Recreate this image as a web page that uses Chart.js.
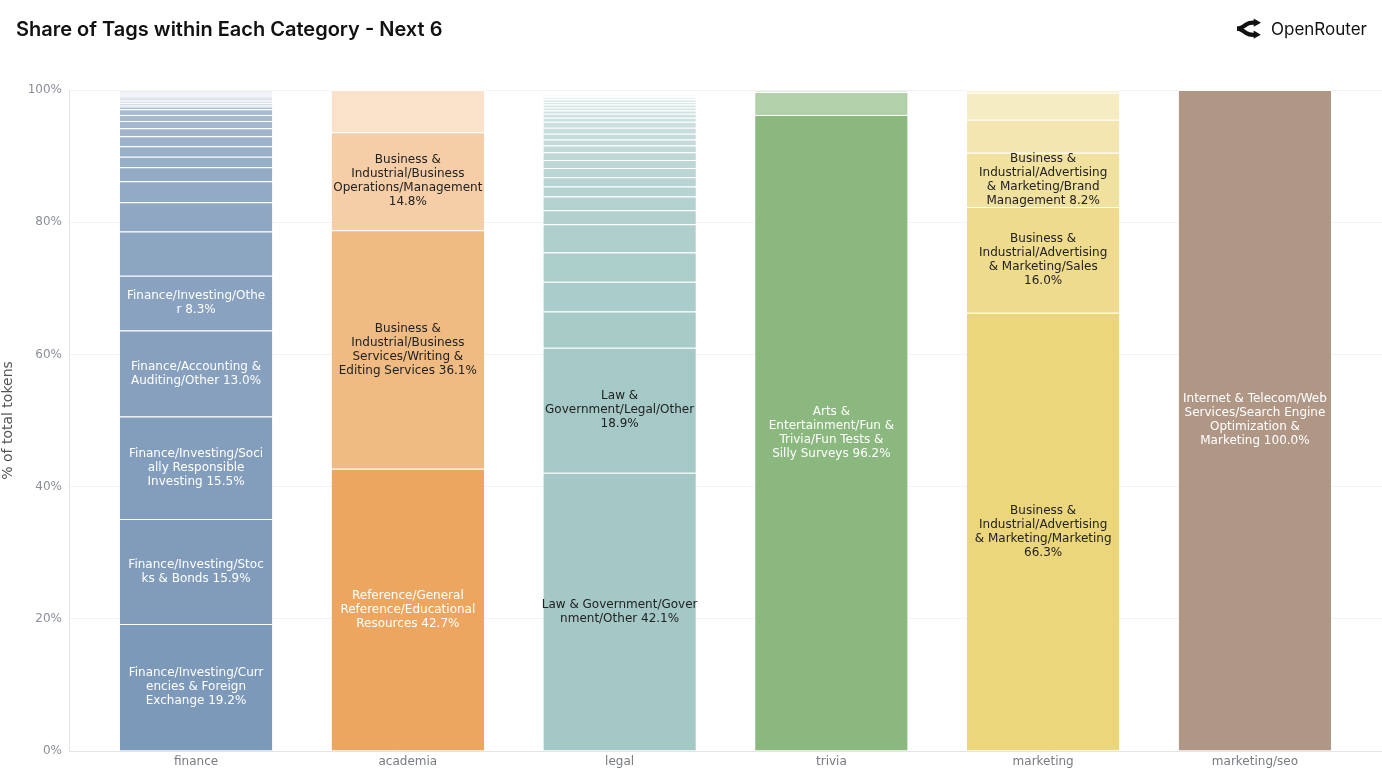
<!DOCTYPE html>
<html>
<head>
<meta charset="utf-8">
<script src="https://cdn.jsdelivr.net/npm/chart.js@4.4.1/dist/chart.umd.min.js"></script>
<style>
  html, body { margin: 0; padding: 0; background: #ffffff; }
  #wrap { position: relative; width: 1382px; height: 776px; overflow: hidden; background: #fff; }
  #c { position: absolute; left: 0; top: 0; }
  #title { position: absolute; left: 16px; top: 16px; font: 600 20px Inter, "Noto Sans", sans-serif; color: #111; line-height: 26px; white-space: nowrap; }
  #brand { position: absolute; right: 15px; top: 16px; height: 26px; display: flex; align-items: center; gap: 10px; font: 400 17px Inter, "Noto Sans", sans-serif; color: #111; }
  #brand svg { display: block; }
</style>
</head>
<body>
<div id="wrap">
  <canvas id="c" width="1382" height="776"></canvas>
  <div id="title">Share of Tags within Each Category - Next 6</div>
  <div id="brand">
    <svg width="24" height="24" viewBox="0 0 512 512" aria-hidden="true">
      <path d="M3 248.945C18 248.945 76 236 106 219C136 202 136 202 198 158C276.497 102.293 332 120.945 423 120.945" stroke="#111" stroke-width="90" fill="none"/>
      <path d="M511 121.5L357.25 210.268L357.25 32.7324L511 121.5Z" fill="#111"/>
      <path d="M0 249C15 249 73 261.945 103 278.945C133 295.945 133 295.945 195 339.945C273.497 395.652 329 377 420 377" stroke="#111" stroke-width="90" fill="none"/>
      <path d="M508 376.445L354.25 287.678L354.25 465.213L508 376.445Z" fill="#111"/>
    </svg>
    <span>OpenRouter</span>
  </div>
</div>
<script>
// ---------------- DATA ----------------
const categories = ['finance', 'academia', 'legal', 'trivia', 'marketing', 'marketing/seo'];

const financeShares = [19.2, 15.9, 15.5, 13.0, 8.3, 6.7, 4.4, 3.2, 2.1, 1.6, 1.6, 1.5, 1.2, 1.1, 0.9, 0.9, 0.4, 0.25, 0.25, 0.25, 0.25,
                       0.14, 0.14, 0.14, 0.14, 0.13, 0.13, 0.13, 0.13, 0.13, 0.13];
const financeTags = [
  'Finance/Investing/Currencies & Foreign Exchange',
  'Finance/Investing/Stocks & Bonds',
  'Finance/Investing/Socially Responsible Investing',
  'Finance/Accounting & Auditing/Other',
  'Finance/Investing/Other'
];

const academiaShares = [42.7, 36.1, 14.8, 6.4];
const academiaTags = [
  'Reference/General Reference/Educational Resources',
  'Business & Industrial/Business Services/Writing & Editing Services',
  'Business & Industrial/Business Operations/Management'
];

const legalShares = [42.1, 18.9, 5.5, 4.5, 4.4, 4.3, 2.1, 2.1, 1.5, 1.4, 1.4, 1.2, 1.2, 1.0, 0.9, 0.9, 0.9, 0.9,
                     0.6, 0.6, 0.5, 0.45, 0.45, 0.4, 0.35, 0.3, 0.2, 0.15];
const legalTags = [
  'Law & Government/Government/Other',
  'Law & Government/Legal/Other'
];

const triviaShares = [96.2, 3.5, 0.2];
const triviaTags = [
  'Arts & Entertainment/Fun & Trivia/Fun Tests & Silly Surveys'
];

const marketingShares = [66.3, 16.0, 8.2, 5.0, 4.1, 0.4];
const marketingTags = [
  'Business & Industrial/Advertising & Marketing/Marketing',
  'Business & Industrial/Advertising & Marketing/Sales',
  'Business & Industrial/Advertising & Marketing/Brand Management'
];

const seoShares = [100.0];
const seoTags = [
  'Internet & Telecom/Web Services/Search Engine Optimization & Marketing'
];

const yTickValues = [0, 20, 40, 60, 80, 100];

// ---------------- STYLE ----------------
const baseColors = [[111, 142, 177], [234, 156, 78], [153, 194, 191], [126, 176, 112], [233, 209, 109], [167, 139, 119]];
const labelMin = 8;

const shares = [financeShares, academiaShares, legalShares, triviaShares, marketingShares, seoShares];
const tags = [financeTags, academiaTags, legalTags, triviaTags, marketingTags, seoTags];

function segRGB(ci, r) {
  const n = shares[ci].length;
  const a = n > 1 ? 0.9 - 0.6 * r / (n - 1) : 0.9;
  return baseColors[ci].map(c => Math.round(255 - a * (255 - c)));
}
function rgbStr(c) { return 'rgb(' + c[0] + ',' + c[1] + ',' + c[2] + ')'; }

function wrapText(text, width) {
  const chunks = text.split(/(\s+)/).filter(s => s.length).reverse();
  const lines = [];
  while (chunks.length) {
    const cur = []; let len = 0;
    if (lines.length && chunks[chunks.length - 1].trim() === '') chunks.pop();
    while (chunks.length) {
      const l = chunks[chunks.length - 1].length;
      if (len + l <= width) { cur.push(chunks.pop()); len += l; } else break;
    }
    if (chunks.length && chunks[chunks.length - 1].length > width) {
      const space = width < 1 ? 1 : width - len;
      const c = chunks[chunks.length - 1];
      cur.push(c.slice(0, space));
      chunks[chunks.length - 1] = c.slice(space);
    }
    if (cur.length && cur[cur.length - 1].trim() === '') cur.pop();
    if (cur.length) lines.push(cur.join(''));
  }
  return lines;
}

const maxN = Math.max(...shares.map(s => s.length));
const datasets = [];
for (let r = 0; r < maxN; r++) {
  const idx = categories.map((c, i) => i).filter(i => shares[i][r] !== undefined);
  datasets.push({
    data: idx.map(i => ({ x: i, y: shares[i][r] })),
    backgroundColor: idx.map(i => rgbStr(segRGB(i, r))),
    borderColor: '#ffffff',
    borderWidth: { top: 1, right: 0, bottom: 0, left: 0 },
    borderSkipped: 'start',
    barPercentage: 0.72,
    categoryPercentage: 1.0
  });
}

const segLabels = {
  id: 'segLabels',
  afterDatasetsDraw(chart) {
    const ctx = chart.ctx;
    ctx.save();
    ctx.font = '12px "DejaVu Sans"';
    ctx.textAlign = 'center';
    ctx.textBaseline = 'middle';
    chart.data.datasets.forEach((ds, r) => {
      const meta = chart.getDatasetMeta(r);
      meta.data.forEach((el, j) => {
        const ci = ds.data[j].x;
        const v = shares[ci][r];
        const name = tags[ci][r];
        if (!name || v < labelMin) return;
        const lines = wrapText(name + ' ' + v.toFixed(1) + '%', 22);
        const col = segRGB(ci, r);
        const lum = 0.299 * col[0] + 0.587 * col[1] + 0.114 * col[2];
        ctx.fillStyle = lum < 184 ? '#ffffff' : '#222222';
        const cy = (el.y + el.base) / 2;
        const lh = 14;
        lines.forEach((ln, k) => ctx.fillText(ln, el.x, cy + (k - (lines.length - 1) / 2) * lh));
      });
    });
    ctx.restore();
  }
};

new Chart(document.getElementById('c'), {
  type: 'bar',
  data: { datasets },
  options: {
    responsive: false,
    animation: false,
    layout: { padding: { top: 90, left: 0, right: 0, bottom: 0 } },
    plugins: { legend: { display: false }, tooltip: { enabled: false }, title: { display: false } },
    scales: {
      x: {
        type: 'linear', min: -0.6, max: 5.6, stacked: true, offset: false,
        afterBuildTicks: s => { s.ticks = categories.map((c, i) => ({ value: i })); },
        afterFit: s => { s.height = 25; },
        ticks: {
          callback: v => categories[v],
          font: { family: 'DejaVu Sans', size: 12 }, color: '#777b82', padding: 4,
          autoSkip: false, maxRotation: 0
        },
        grid: { display: false, drawTicks: false },
        border: { display: true, color: '#e4e4e4' }
      },
      y: {
        type: 'linear', min: 0, max: 100, stacked: true,
        afterBuildTicks: s => { s.ticks = yTickValues.map(v => ({ value: v })); },
        afterFit: s => { s.width = 69; },
        ticks: { callback: v => v + '%', font: { family: 'DejaVu Sans', size: 12 }, color: '#8a8f99', padding: 7 },
        grid: { color: '#f3f3f3', drawTicks: false },
        border: { display: true, color: '#e4e4e4' },
        title: { display: true, text: '% of total tokens', font: { family: 'DejaVu Sans', size: 14 }, color: '#555555', padding: 0 }
      }
    }
  },
  plugins: [segLabels]
});
</script>
</body>
</html>
